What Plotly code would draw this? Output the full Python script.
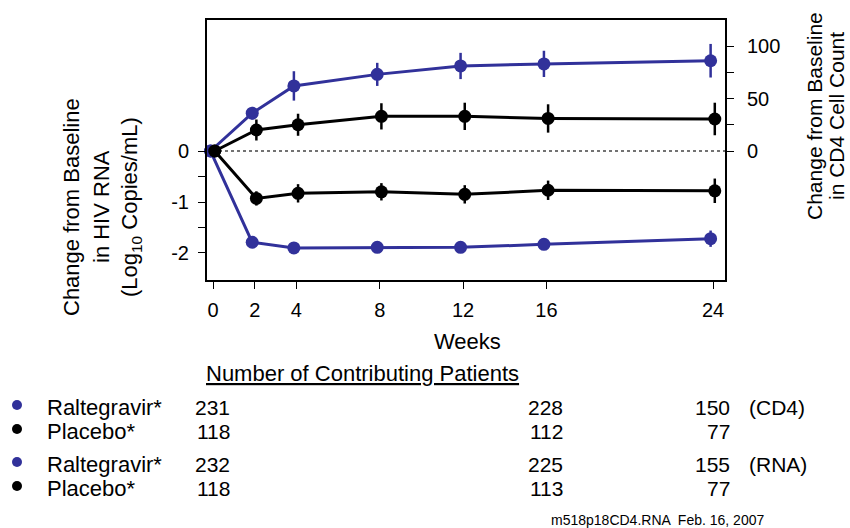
import plotly.graph_objects as go

# ---- data -------------------------------------------------------------
weeks = [0, 2, 4, 8, 12, 16, 24]

# change from baseline in CD4 cell count (right axis)
cd4_ralt = [0, 36, 62, 73, 81, 83, 86]
cd4_ralt_err = [0, 6, 14, 11, 12.5, 12.5, 16]
cd4_plac = [0, 20, 25, 33, 33, 31, 30.5]
cd4_plac_err = [0, 10, 10.5, 12.5, 13, 13.5, 15.5]

# change from baseline in HIV RNA, log10 copies/mL (left axis)
rna_ralt = [0, -1.79, -1.90, -1.89, -1.89, -1.83, -1.72]
rna_ralt_err = [0, 0.05, 0.09, 0.08, 0.07, 0.07, 0.16]
rna_plac = [0, -0.93, -0.83, -0.80, -0.85, -0.77, -0.78]
rna_plac_err = [0, 0.14, 0.18, 0.17, 0.18, 0.19, 0.24]

x_ticks = [0, 2, 4, 8, 12, 16, 24]
rna_ticks = [0, -1, -2]
rna_tick_text = ["0", "-1", "-2"]
rna_minor_ticks = [-0.5, -1.5]
cd4_ticks = [0, 50, 100]
cd4_tick_text = ["0", "50", "100"]
cd4_minor_ticks = [25, 75]

# number of contributing patients at weeks 0, 16 and 24
count_weeks = [0, 16, 24]
table_rows = [
    ("Raltegravir*", [231, 228, 150], "(CD4)", "ralt"),
    ("Placebo*", [118, 112, 77], "", "plac"),
    ("Raltegravir*", [232, 225, 155], "(RNA)", "ralt"),
    ("Placebo*", [118, 113, 77], "", "plac"),
]

BLUE = "#31319A"
BLACK = "#000000"
FONT = "Liberation Sans, Arial, sans-serif"

# small horizontal dodge so the two arms do not sit exactly on top of each other
DODGE = {"ralt": -0.12, "plac": 0.08}

W, H = 850, 528
L, R, T, B = 207, 725, 20, 280  # plot box in pixels


def px(x):
    return (x - L) / (R - L)


def py(y):
    return (B - y) / (B - T)


fig = go.Figure()


def add_series(y, err, arm, axis):
    color = BLUE if arm == "ralt" else BLACK
    fig.add_trace(go.Scatter(
        x=[w + DODGE[arm] for w in weeks], y=y, yaxis=axis,
        mode="lines+markers",
        line=dict(color=color, width=3),
        marker=dict(color=color, size=13),
        error_y=dict(type="data", array=err, visible=True,
                     color=color, thickness=2.5, width=0),
        showlegend=False, cliponaxis=False,
    ))


add_series(cd4_ralt, cd4_ralt_err, "ralt", "y2")
add_series(rna_ralt, rna_ralt_err, "ralt", "y")
add_series(cd4_plac, cd4_plac_err, "plac", "y2")
add_series(rna_plac, rna_plac_err, "plac", "y")

# dotted baseline
fig.add_shape(type="line", xref="paper", yref="y", x0=0, x1=1, y0=0, y1=0,
              line=dict(color="#444444", width=1.5, dash="dot"), layer="below")

tickfont = dict(family=FONT, size=20, color="black")
axis_common = dict(ticks="outside", ticklen=7, tickwidth=1, tickcolor="black",
                   showline=True, linecolor="black", linewidth=2,
                   showgrid=False, zeroline=False, tickfont=tickfont)

fig.update_layout(
    width=W, height=H,
    margin=dict(l=L, r=W - R, t=T, b=H - B),
    paper_bgcolor="white", plot_bgcolor="white",
    font=dict(family=FONT, color="black"),
    xaxis=dict(range=[-0.29, 24.57], tickvals=x_ticks, mirror=True,
               ticklabelstandoff=4, **axis_common),
    yaxis=dict(range=[-2.53, 2.57], tickvals=rna_ticks,
               ticktext=rna_tick_text, mirror=True, ticklabelstandoff=5,
               minor=dict(tickmode="array", tickvals=rna_minor_ticks,
                          ticks="outside", ticklen=7, tickwidth=1,
                          tickcolor="black", showgrid=False),
               **axis_common),
    yaxis2=dict(range=[-122.9, 124.8], tickvals=cd4_ticks,
                ticktext=cd4_tick_text, overlaying="y", side="right",
                ticklabelstandoff=9,
                minor=dict(tickmode="array", tickvals=cd4_minor_ticks,
                           ticks="outside", ticklen=7, tickwidth=1,
                           tickcolor="black", showgrid=False),
                **axis_common),
)

ann = []


def text(x, y, s, size=21, xanchor="center", textangle=0, color="black"):
    ann.append(dict(x=px(x), y=py(y), xref="paper", yref="paper", text=s,
                    showarrow=False, xanchor=xanchor, yanchor="middle",
                    textangle=textangle,
                    font=dict(family=FONT, size=size, color=color)))


# axis titles
text(467, 341, "Weeks", size=22)
text(71, 207, "Change from Baseline", size=22, textangle=-90)
text(101, 207, "in HIV RNA", size=22, textangle=-90)
text(131, 207, "(Log<sub>10</sub> Copies/mL)", size=22, textangle=-90)
text(814, 116, "Change from Baseline", textangle=-90)
text(836, 116, "in CD4 Cell Count", textangle=-90)

# patient count table
text(362, 373, "<u>Number of Contributing Patients</u>", size=22)
row_y = [407, 431, 464, 488]
for yy, (label, counts, tag, arm) in zip(row_y, table_rows):
    color = BLUE if arm == "ralt" else BLACK
    fig.add_shape(type="circle", xref="paper", yref="paper",
                  xsizemode="pixel", ysizemode="pixel",
                  xanchor=px(17), yanchor=py(yy - 2),
                  x0=-5, x1=5, y0=-5, y1=5,
                  fillcolor=color, line=dict(color=color, width=0))
    text(45, yy, label, size=22, xanchor="left")
    for wk, n in zip(count_weeks, counts):
        ann.append(dict(x=wk, y=py(yy), xref="x", yref="paper", text=str(n),
                        showarrow=False, xanchor="right", yanchor="middle",
                        xshift=19, font=dict(family=FONT, size=21,
                                             color="black")))
    if tag:
        text(747, yy, tag, xanchor="left")

text(549, 520, "m518p18CD4.RNA  Feb. 16, 2007", size=14, xanchor="left")

fig.update_layout(annotations=ann)

fig.write_html("out.html")
